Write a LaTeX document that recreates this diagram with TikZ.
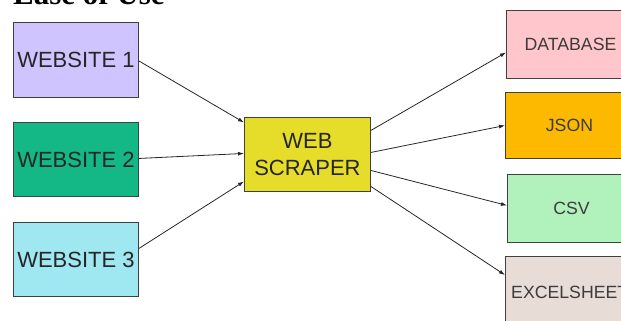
\documentclass[tikz,border=0pt]{standalone}
\usepackage{fontspec}
\setmainfont{Liberation Sans}
\newfontfamily\titlefont{Liberation Serif}
\usetikzlibrary{arrows.meta}
\definecolor{edge}{HTML}{404040}
\definecolor{ink}{HTML}{262626}
\definecolor{siteA}{HTML}{CFC4FE}
\definecolor{siteB}{HTML}{13B886}
\definecolor{siteC}{HTML}{9FE8F2}
\definecolor{scraper}{HTML}{E6DC2A}
\definecolor{dbfill}{HTML}{FFC7CB}
\definecolor{jsonfill}{HTML}{FCB900}
\definecolor{csvfill}{HTML}{B1F2BC}
\definecolor{xlsfill}{HTML}{E8DCD7}
\tikzset{
  box/.style={draw=edge, line width=0.9pt, anchor=north west, inner sep=0pt,
    text=ink, align=center},
  srcbox/.style={box, minimum width=125pt, minimum height=75pt, font=\fontsize{22}{27}\selectfont},
  sinkbox/.style={box, minimum width=128pt, minimum height=67pt, text=ink!90, font=\fontsize{17.7}{20}\selectfont},
  link/.style={draw=ink, line width=0.8pt, -{Latex[length=6pt,width=4pt]}},
}
\begin{document}
\begin{tikzpicture}[x=1pt,y=-1pt]
\useasboundingbox (0,0) rectangle (621,321);
\clip (0,0) rectangle (621,321);
% heading, partly above the page edge
\node[anchor=base west, inner sep=0pt, font=\titlefont\bfseries\fontsize{31}{36}\selectfont] (title) at (13,4.5) {Ease of Use};
% sources
\node[srcbox, fill=siteA] (w1) at (13,22) {WEBSITE 1};
\node[srcbox, fill=siteB, minimum height=74pt] (w2) at (13,122) {WEBSITE 2};
\node[srcbox, fill=siteC, minimum height=74pt] (w3) at (13,222) {WEBSITE 3};
% scraper
\node[box, fill=scraper, minimum width=126pt, minimum height=74pt, font=\fontsize{22}{27}\selectfont] (scr) at (244,117) {WEB\\SCRAPER};
% outputs
\node[sinkbox, fill=dbfill, minimum height=68pt] (db) at (506,10) {DATABASE};
\node[sinkbox, fill=jsonfill, minimum height=66pt] (json) at (505,92) {JSON};
\node[sinkbox, fill=csvfill, minimum height=68pt] (csv) at (507,174) {CSV};
\node[sinkbox, fill=xlsfill, minimum height=100pt] (xls) at (505,256) {};
\node[anchor=base west, inner sep=0pt, text=ink!90, font=\fontsize{17.7}{20}\selectfont] (xlstext) at (511,298) {EXCELSHEET};
% inputs to scraper
\draw[link] ([yshift=-1pt]w1.east) -- ([yshift=32pt]scr.west);
\draw[link] ([yshift=1pt]w2.east) -- ([yshift=1pt]scr.west);
\draw[link] ([yshift=11pt]w3.east) -- ([yshift=-27pt]scr.west);
% scraper to outputs
\draw[link] ([yshift=24pt]scr.east) -- ([yshift=-8pt]db.west);
\draw[link] ([yshift=2pt]scr.east) -- (json.west);
\draw[link] ([yshift=-16pt]scr.east) -- ([yshift=3pt]csv.west);
\draw[link] ([yshift=-32pt]scr.east) -- ([yshift=-19pt]xls.north west);
\end{tikzpicture}
\end{document}
